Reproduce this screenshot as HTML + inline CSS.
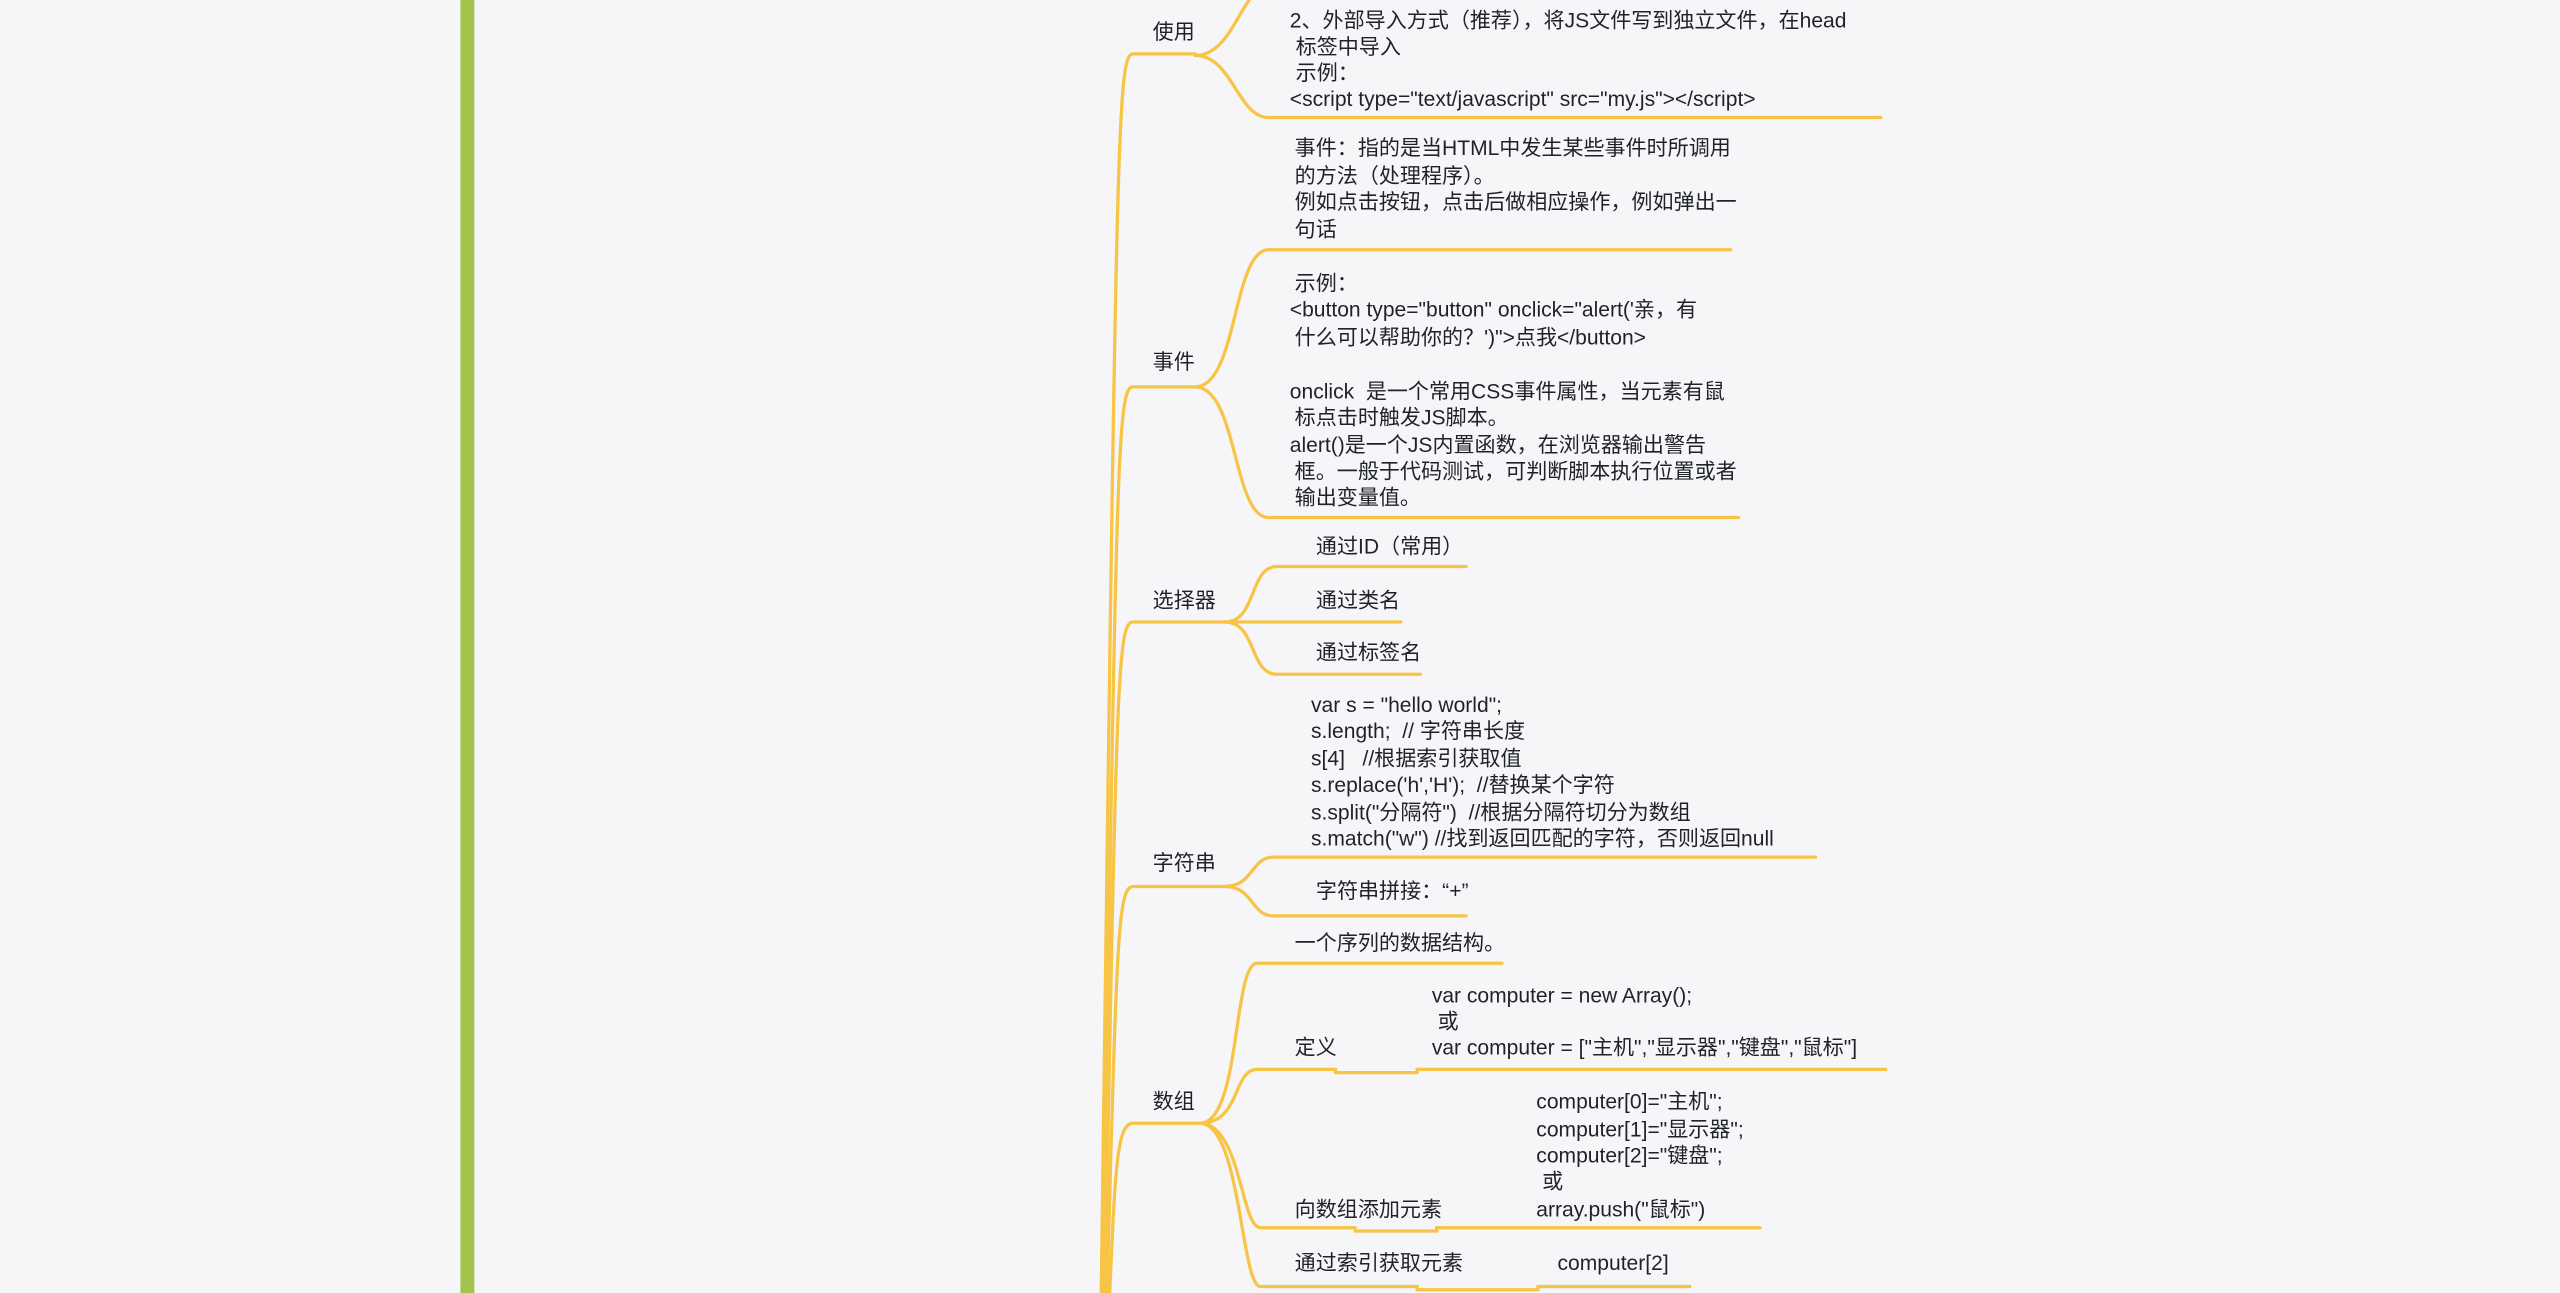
<!DOCTYPE html>
<html><head><meta charset="utf-8"><style>
html,body{margin:0;padding:0;background:#f6f6f8;}
svg{display:block;}
text{font-family:"Liberation Sans","Noto Sans CJK SC",sans-serif;font-size:12.9px;fill:#1f2329;white-space:pre;}
</style></head><body>
<svg width="2560" height="1293" viewBox="0 0 1568 792" xmlns="http://www.w3.org/2000/svg">
<rect width="1568" height="792" fill="#f6f6f8"/>
<rect x="282" y="0" width="8.5" height="792" fill="#a4c34b"/>
<g fill="none" stroke="#f7c445" stroke-width="2" stroke-linecap="round">
<path d="M674 830 C684 80, 684 33, 694 33 L732 33"/>
<path d="M675 830 C684 280, 684 237, 694 237 L732 237"/>
<path d="M676 830 C684 420, 684 381, 694 381 L750 381"/>
<path d="M677 830 C684 580, 684 543, 694 543 L750 543"/>
<path d="M678 830 C683 720, 683 688, 694 688 L735 688"/>
<path d="M732 34 C755 34, 760 -5, 775 -8"/>
<path d="M732 34 C755 34, 758 72, 777 72 L1152 72"/>
<path d="M732 237 C758 237, 755 153, 777 153 L1060 153"/>
<path d="M732 237 C758 237, 755 317, 777 317 L1065 317"/>
<path d="M750 381 C770 381, 765 347, 782 347 L898 347"/>
<path d="M750 381 L858 381"/>
<path d="M750 381 C770 381, 765 413, 782 413 L870 413"/>
<path d="M750 543 C768 543, 766 525, 780 525 L1112 525"/>
<path d="M750 543 C768 543, 766 561, 780 561 L898 561"/>
<path d="M735 688 C760 688, 755 590, 770 590 L920 590"/>
<path d="M735 688 C760 688, 755 655, 770 655 L818 655 L818 657 L868 657 L868 655 L1155 655"/>
<path d="M735 688 C760 688, 760 752, 772 752 L830 752 L830 754 L880 754 L880 752 L1078 752"/>
<path d="M735 688 C760 688, 760 788, 772 788 L868 788 L868 790 L942 790 L942 788 L1035 788"/>
</g>
<text x="706" y="24">使用</text>
<text x="706" y="226">事件</text>
<text x="706" y="372">选择器</text>
<text x="706" y="533">字符串</text>
<text x="706" y="679">数组</text>

<text x="790" y="17">2、外部导入方式（推荐），将JS文件写到独立文件，在head</text>
<text x="790" y="33"> 标签中导入</text>
<text x="790" y="49"> 示例：</text>
<text x="790" y="65">&lt;script type="text/javascript" src="my.js"&gt;&lt;/script&gt;</text>

<text x="793" y="95">事件：指的是当HTML中发生某些事件时所调用</text>
<text x="793" y="112">的方法（处理程序）。</text>
<text x="793" y="128">例如点击按钮，点击后做相应操作，例如弹出一</text>
<text x="793" y="145">句话</text>

<text x="793" y="178">示例：</text>
<text x="790" y="194">&lt;button type="button" onclick="alert('亲，有</text>
<text x="793" y="211">什么可以帮助你的？')"&gt;点我&lt;/button&gt;</text>
<text x="790" y="244">onclick  是一个常用CSS事件属性，当元素有鼠</text>
<text x="793" y="260">标点击时触发JS脚本。</text>
<text x="790" y="277">alert()是一个JS内置函数，在浏览器输出警告</text>
<text x="793" y="293">框。一般于代码测试，可判断脚本执行位置或者</text>
<text x="793" y="309">输出变量值。</text>

<text x="806" y="339">通过ID（常用）</text>
<text x="806" y="372">通过类名</text>
<text x="806" y="404">通过标签名</text>

<text x="803" y="436">var s = "hello world";</text>
<text x="803" y="452">s.length;  // 字符串长度</text>
<text x="803" y="469">s[4]   //根据索引获取值</text>
<text x="803" y="485">s.replace('h','H');  //替换某个字符</text>
<text x="803" y="502">s.split("分隔符")  //根据分隔符切分为数组</text>
<text x="803" y="518">s.match("w") //找到返回匹配的字符，否则返回null</text>
<text x="806" y="550">字符串拼接：“+”</text>

<text x="793" y="582">一个序列的数据结构。</text>
<text x="793" y="646">定义</text>
<text x="877" y="614">var computer = new Array();</text>
<text x="877" y="630"> 或</text>
<text x="877" y="646">var computer = ["主机","显示器","键盘","鼠标"]</text>

<text x="793" y="745">向数组添加元素</text>
<text x="941" y="679">computer[0]="主机";</text>
<text x="941" y="696">computer[1]="显示器";</text>
<text x="941" y="712">computer[2]="键盘";</text>
<text x="941" y="728"> 或</text>
<text x="941" y="745">array.push("鼠标")</text>

<text x="793" y="778">通过索引获取元素</text>
<text x="954" y="778">computer[2]</text>
</svg>
</body></html>
